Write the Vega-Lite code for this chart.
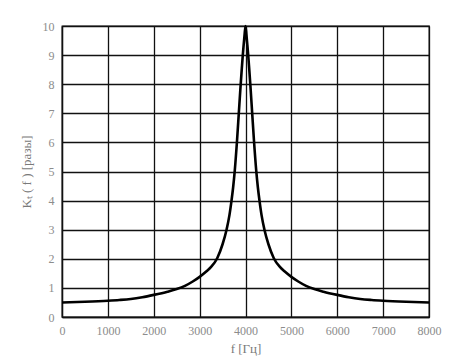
{
  "$schema": "https://vega.github.io/schema/vega-lite/v6.json",
  "width": 367,
  "height": 291,
  "autosize": "none",
  "padding": {"left": 62, "top": 26, "right": 44, "bottom": 39},
  "background": "white",
  "config": {
    "font": "Liberation Serif",
    "view": {"stroke": "#111", "strokeWidth": 1.3},
    "axis": {
      "grid": true,
      "gridColor": "#111",
      "gridWidth": 1.3,
      "gridOpacity": 1,
      "domainColor": "#111",
      "domainWidth": 1.3,
      "ticks": false,
      "tickSize": 0,
      "labelFont": "Liberation Serif",
      "labelFontSize": 12,
      "labelColor": "#8c8c8c",
      "titleFont": "Liberation Serif",
      "titleFontSize": 13,
      "titleFontWeight": "normal",
      "titleColor": "#7a7a7a"
    }
  },
  "data": {
    "values": [
      {"f": 0, "k": 0.50},
      {"f": 500, "k": 0.525},
      {"f": 1000, "k": 0.56},
      {"f": 1250, "k": 0.585},
      {"f": 1500, "k": 0.62},
      {"f": 1750, "k": 0.68},
      {"f": 2000, "k": 0.76},
      {"f": 2300, "k": 0.87},
      {"f": 2500, "k": 0.96},
      {"f": 2680, "k": 1.07},
      {"f": 2850, "k": 1.22},
      {"f": 3000, "k": 1.38},
      {"f": 3150, "k": 1.57},
      {"f": 3250, "k": 1.72},
      {"f": 3383, "k": 2.02},
      {"f": 3500, "k": 2.5},
      {"f": 3587, "k": 3.0},
      {"f": 3650, "k": 3.5},
      {"f": 3695, "k": 4.0},
      {"f": 3730, "k": 4.45},
      {"f": 3767, "k": 5.05},
      {"f": 3817, "k": 6.1},
      {"f": 3854, "k": 7.0},
      {"f": 3891, "k": 7.9},
      {"f": 3920, "k": 8.55},
      {"f": 3941, "k": 9.0},
      {"f": 3960, "k": 9.35},
      {"f": 3980, "k": 9.7},
      {"f": 4000, "k": 10.0},
      {"f": 4020, "k": 9.7},
      {"f": 4040, "k": 9.35},
      {"f": 4059, "k": 9.0},
      {"f": 4080, "k": 8.55},
      {"f": 4109, "k": 7.9},
      {"f": 4146, "k": 7.0},
      {"f": 4183, "k": 6.1},
      {"f": 4233, "k": 5.05},
      {"f": 4270, "k": 4.45},
      {"f": 4305, "k": 4.0},
      {"f": 4350, "k": 3.5},
      {"f": 4413, "k": 3.0},
      {"f": 4500, "k": 2.5},
      {"f": 4617, "k": 2.02},
      {"f": 4750, "k": 1.72},
      {"f": 4850, "k": 1.57},
      {"f": 5000, "k": 1.38},
      {"f": 5150, "k": 1.22},
      {"f": 5320, "k": 1.07},
      {"f": 5500, "k": 0.96},
      {"f": 5700, "k": 0.87},
      {"f": 6000, "k": 0.76},
      {"f": 6250, "k": 0.68},
      {"f": 6500, "k": 0.62},
      {"f": 6750, "k": 0.585},
      {"f": 7000, "k": 0.56},
      {"f": 7500, "k": 0.525},
      {"f": 8000, "k": 0.50}
    ]
  },
  "mark": {"type": "line", "color": "#000", "strokeWidth": 2.6, "interpolate": "monotone"},
  "encoding": {
    "x": {
      "field": "f",
      "type": "quantitative",
      "scale": {"domain": [0, 8000], "nice": false},
      "axis": {"values": [0, 1000, 2000, 3000, 4000, 5000, 6000, 7000, 8000], "format": "d", "labelPadding": 8, "title": "f [Гц]", "titlePadding": 6, "labelFlush": false}
    },
    "y": {
      "field": "k",
      "type": "quantitative",
      "scale": {"domain": [0, 10], "nice": false},
      "axis": {"values": [0, 1, 2, 3, 4, 5, 6, 7, 8, 9, 10], "labelPadding": 8, "title": "Kₜ ( f ) [разы]", "titlePadding": 9, "labelFlush": false}
    }
  }
}
